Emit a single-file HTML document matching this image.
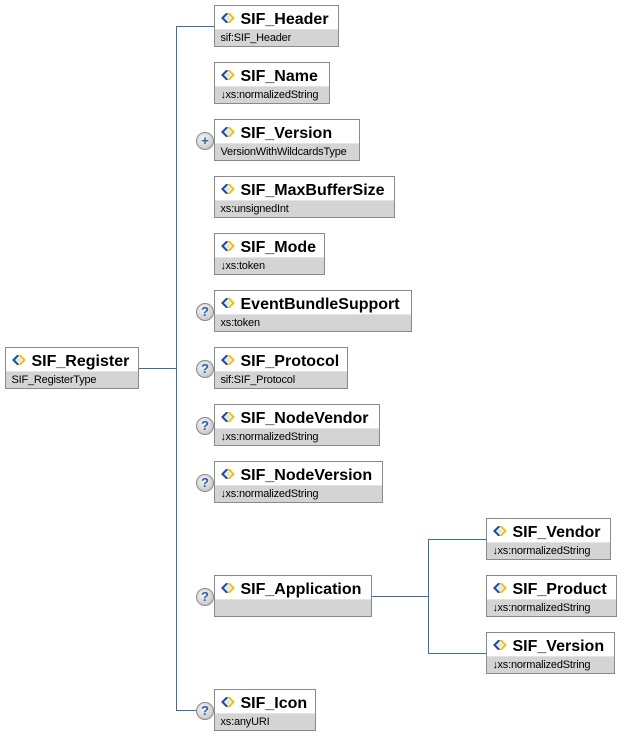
<!DOCTYPE html>
<html>
<head>
<meta charset="utf-8">
<style>
html,body{margin:0;padding:0;background:#fff;}
body{width:639px;height:736px;position:relative;overflow:hidden;font-family:"Liberation Sans",Arial,sans-serif;}
.b{position:absolute;height:42px;box-sizing:border-box;border:1px solid #8a8a8a;background:#d4d4d4;}
.b .h{position:absolute;left:0;right:0;top:0;height:23px;background:#fff;border-bottom:1px solid #e4e4e4;}
.b .t{position:absolute;left:25.5px;top:4.5px;font-size:16px;line-height:18px;font-weight:bold;color:#000;white-space:nowrap;}
.b .s{position:absolute;left:5.5px;top:25.5px;font-size:11px;line-height:13px;color:#000;white-space:nowrap;letter-spacing:-0.2px;}
.b .s .ar{font-size:11px;letter-spacing:-0.5px;}
.b svg.ic{position:absolute;left:6px;top:7px;}
.c{position:absolute;width:18px;height:18px;box-sizing:border-box;border-radius:50%;border:1px solid #8a8a8a;background:radial-gradient(circle at 40% 35%,#f4f4f4 0%,#d6d6d6 55%,#b4b4b4 100%);color:#2e63a5;font-weight:bold;font-size:13px;line-height:16px;text-align:center;}
svg.ln{position:absolute;left:0;top:0;}
</style>
</head>
<body>
<svg class="ln" width="639" height="736">
<g stroke="#3a6ea5" stroke-width="1" fill="none">
<line x1="176.5" y1="26.5" x2="176.5" y2="710.5"/>
<line x1="176" y1="26.5" x2="214" y2="26.5"/>
<line x1="139" y1="368.5" x2="177" y2="368.5"/>
<line x1="176" y1="710.5" x2="197" y2="710.5"/>
<line x1="372" y1="596.5" x2="429" y2="596.5"/>
<line x1="428.5" y1="539.5" x2="428.5" y2="653.5"/>
<line x1="428" y1="539.5" x2="486" y2="539.5"/>
<line x1="428" y1="653.5" x2="486" y2="653.5"/>
</g>
</svg>

<div class="b" style="left:5px;top:347px;width:134px;"><div class="h"></div>
<svg class="ic" width="14" height="10"><polygon points="0,5 5,0 8,0 3,5 8,10 5,10" fill="#1f4e9e"/><polygon points="6,0 9,0 14,5 9,10 6,10 11,5" fill="#f0c020"/><circle cx="7" cy="5" r="2.3" fill="#d8e6f6"/></svg>
<div class="t">SIF_Register</div><div class="s">SIF_RegisterType</div></div>

<div class="b" style="left:214px;top:5px;width:125px;"><div class="h"></div>
<svg class="ic" width="14" height="10"><polygon points="0,5 5,0 8,0 3,5 8,10 5,10" fill="#1f4e9e"/><polygon points="6,0 9,0 14,5 9,10 6,10 11,5" fill="#f0c020"/><circle cx="7" cy="5" r="2.3" fill="#d8e6f6"/></svg>
<div class="t">SIF_Header</div><div class="s">sif:SIF_Header</div></div>

<div class="b" style="left:214px;top:62px;width:116px;"><div class="h"></div>
<svg class="ic" width="14" height="10"><polygon points="0,5 5,0 8,0 3,5 8,10 5,10" fill="#1f4e9e"/><polygon points="6,0 9,0 14,5 9,10 6,10 11,5" fill="#f0c020"/><circle cx="7" cy="5" r="2.3" fill="#d8e6f6"/></svg>
<div class="t">SIF_Name</div><div class="s"><span class="ar">↓</span>xs:normalizedString</div></div>

<div class="c" style="left:196px;top:132px;">+</div>
<div class="b" style="left:214px;top:119px;width:146px;"><div class="h"></div>
<svg class="ic" width="14" height="10"><polygon points="0,5 5,0 8,0 3,5 8,10 5,10" fill="#1f4e9e"/><polygon points="6,0 9,0 14,5 9,10 6,10 11,5" fill="#f0c020"/><circle cx="7" cy="5" r="2.3" fill="#d8e6f6"/></svg>
<div class="t">SIF_Version</div><div class="s">VersionWithWildcardsType</div></div>

<div class="b" style="left:214px;top:176px;width:181px;"><div class="h"></div>
<svg class="ic" width="14" height="10"><polygon points="0,5 5,0 8,0 3,5 8,10 5,10" fill="#1f4e9e"/><polygon points="6,0 9,0 14,5 9,10 6,10 11,5" fill="#f0c020"/><circle cx="7" cy="5" r="2.3" fill="#d8e6f6"/></svg>
<div class="t">SIF_MaxBufferSize</div><div class="s">xs:unsignedInt</div></div>

<div class="b" style="left:214px;top:233px;width:111px;"><div class="h"></div>
<svg class="ic" width="14" height="10"><polygon points="0,5 5,0 8,0 3,5 8,10 5,10" fill="#1f4e9e"/><polygon points="6,0 9,0 14,5 9,10 6,10 11,5" fill="#f0c020"/><circle cx="7" cy="5" r="2.3" fill="#d8e6f6"/></svg>
<div class="t">SIF_Mode</div><div class="s"><span class="ar">↓</span>xs:token</div></div>

<div class="c" style="left:196px;top:303px;">?</div>
<div class="b" style="left:214px;top:290px;width:198px;"><div class="h"></div>
<svg class="ic" width="14" height="10"><polygon points="0,5 5,0 8,0 3,5 8,10 5,10" fill="#1f4e9e"/><polygon points="6,0 9,0 14,5 9,10 6,10 11,5" fill="#f0c020"/><circle cx="7" cy="5" r="2.3" fill="#d8e6f6"/></svg>
<div class="t">EventBundleSupport</div><div class="s">xs:token</div></div>

<div class="c" style="left:196px;top:360px;">?</div>
<div class="b" style="left:214px;top:347px;width:134px;"><div class="h"></div>
<svg class="ic" width="14" height="10"><polygon points="0,5 5,0 8,0 3,5 8,10 5,10" fill="#1f4e9e"/><polygon points="6,0 9,0 14,5 9,10 6,10 11,5" fill="#f0c020"/><circle cx="7" cy="5" r="2.3" fill="#d8e6f6"/></svg>
<div class="t">SIF_Protocol</div><div class="s">sif:SIF_Protocol</div></div>

<div class="c" style="left:196px;top:417px;">?</div>
<div class="b" style="left:214px;top:404px;width:166px;"><div class="h"></div>
<svg class="ic" width="14" height="10"><polygon points="0,5 5,0 8,0 3,5 8,10 5,10" fill="#1f4e9e"/><polygon points="6,0 9,0 14,5 9,10 6,10 11,5" fill="#f0c020"/><circle cx="7" cy="5" r="2.3" fill="#d8e6f6"/></svg>
<div class="t">SIF_NodeVendor</div><div class="s"><span class="ar">↓</span>xs:normalizedString</div></div>

<div class="c" style="left:196px;top:474px;">?</div>
<div class="b" style="left:214px;top:461px;width:169px;"><div class="h"></div>
<svg class="ic" width="14" height="10"><polygon points="0,5 5,0 8,0 3,5 8,10 5,10" fill="#1f4e9e"/><polygon points="6,0 9,0 14,5 9,10 6,10 11,5" fill="#f0c020"/><circle cx="7" cy="5" r="2.3" fill="#d8e6f6"/></svg>
<div class="t">SIF_NodeVersion</div><div class="s"><span class="ar">↓</span>xs:normalizedString</div></div>

<div class="c" style="left:196px;top:588px;">?</div>
<div class="b" style="left:214px;top:575px;width:158px;"><div class="h"></div>
<svg class="ic" width="14" height="10"><polygon points="0,5 5,0 8,0 3,5 8,10 5,10" fill="#1f4e9e"/><polygon points="6,0 9,0 14,5 9,10 6,10 11,5" fill="#f0c020"/><circle cx="7" cy="5" r="2.3" fill="#d8e6f6"/></svg>
<div class="t">SIF_Application</div></div>

<div class="c" style="left:196px;top:702px;">?</div>
<div class="b" style="left:214px;top:689px;width:102px;"><div class="h"></div>
<svg class="ic" width="14" height="10"><polygon points="0,5 5,0 8,0 3,5 8,10 5,10" fill="#1f4e9e"/><polygon points="6,0 9,0 14,5 9,10 6,10 11,5" fill="#f0c020"/><circle cx="7" cy="5" r="2.3" fill="#d8e6f6"/></svg>
<div class="t">SIF_Icon</div><div class="s">xs:anyURI</div></div>

<div class="b" style="left:486px;top:518px;width:125px;"><div class="h"></div>
<svg class="ic" width="14" height="10"><polygon points="0,5 5,0 8,0 3,5 8,10 5,10" fill="#1f4e9e"/><polygon points="6,0 9,0 14,5 9,10 6,10 11,5" fill="#f0c020"/><circle cx="7" cy="5" r="2.3" fill="#d8e6f6"/></svg>
<div class="t">SIF_Vendor</div><div class="s"><span class="ar">↓</span>xs:normalizedString</div></div>

<div class="b" style="left:486px;top:575px;width:131px;"><div class="h"></div>
<svg class="ic" width="14" height="10"><polygon points="0,5 5,0 8,0 3,5 8,10 5,10" fill="#1f4e9e"/><polygon points="6,0 9,0 14,5 9,10 6,10 11,5" fill="#f0c020"/><circle cx="7" cy="5" r="2.3" fill="#d8e6f6"/></svg>
<div class="t">SIF_Product</div><div class="s"><span class="ar">↓</span>xs:normalizedString</div></div>

<div class="b" style="left:486px;top:632px;width:129px;"><div class="h"></div>
<svg class="ic" width="14" height="10"><polygon points="0,5 5,0 8,0 3,5 8,10 5,10" fill="#1f4e9e"/><polygon points="6,0 9,0 14,5 9,10 6,10 11,5" fill="#f0c020"/><circle cx="7" cy="5" r="2.3" fill="#d8e6f6"/></svg>
<div class="t">SIF_Version</div><div class="s"><span class="ar">↓</span>xs:normalizedString</div></div>
</body>
</html>
